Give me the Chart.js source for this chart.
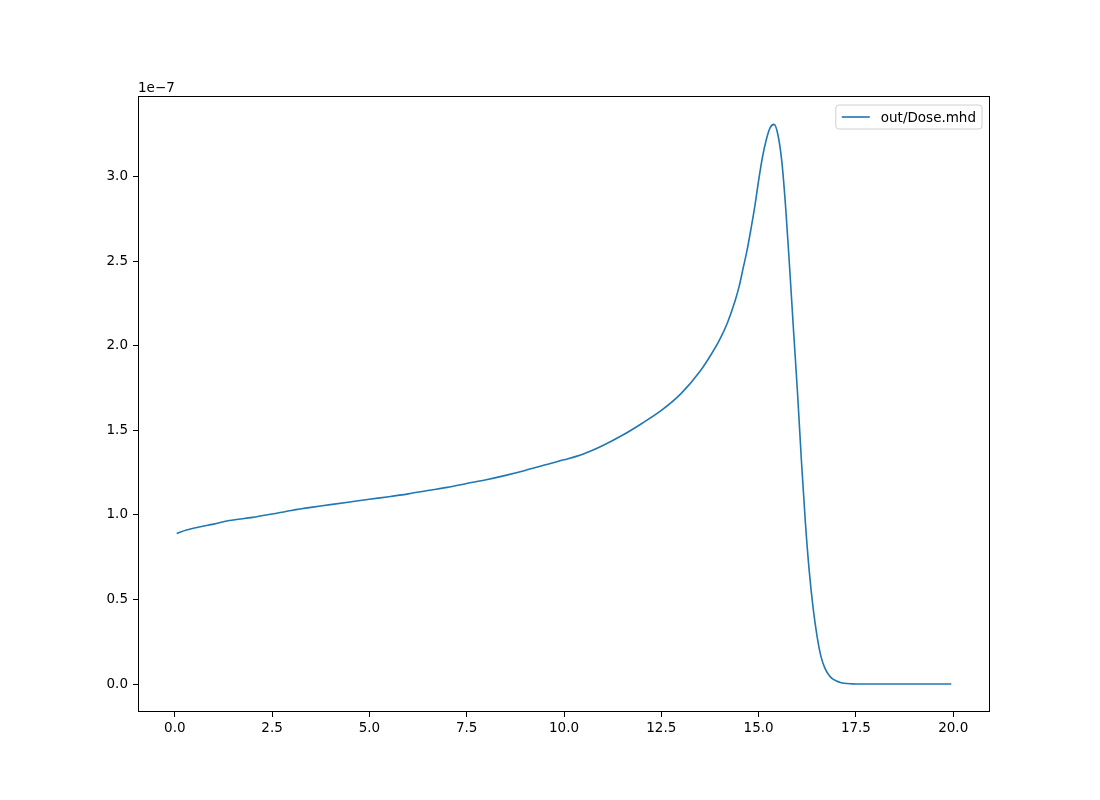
<!DOCTYPE html>
<html>
<head>
<meta charset="utf-8">
<script src="https://cdn.jsdelivr.net/npm/chart.js@4/dist/chart.umd.min.js"></script>
<style>
html,body{margin:0;padding:0;background:#fff;}
canvas{display:block;}
</style>
</head>
<body>
<canvas id="c" width="1100" height="800"></canvas>
<script>
// Depth (mm) positions
const depth = [0.05,0.3,0.6,1.0,1.4,2.0,2.5,3.0,3.5,4.0,4.5,5.0,5.5,6.0,6.5,7.0,7.5,8.0,8.5,9.0,9.5,10.0,10.5,11.0,11.5,12.0,12.5,13.0,13.5,13.8,14.0,14.2,14.4,14.5,14.6,14.7,14.8,14.9,15.0,15.1,15.2,15.3,15.4,15.5,15.6,15.7,15.8,15.9,16.0,16.1,16.2,16.3,16.4,16.5,16.6,16.7,16.8,16.9,17.0,17.1,17.2,17.4,17.6,18.0,18.5,19.0,19.5,19.95];
// Dose values, in units of 1e-7
const doseE7 = [0.890,0.910,0.927,0.945,0.966,0.985,1.005,1.026,1.044,1.060,1.076,1.092,1.107,1.124,1.144,1.162,1.185,1.207,1.233,1.262,1.294,1.325,1.360,1.410,1.470,1.540,1.617,1.715,1.850,1.955,2.035,2.135,2.268,2.350,2.455,2.560,2.685,2.820,2.976,3.115,3.220,3.290,3.308,3.242,3.080,2.800,2.450,2.080,1.720,1.320,0.960,0.670,0.450,0.285,0.165,0.095,0.055,0.030,0.018,0.009,0.004,0.001,0.000,0.000,0.000,0.000,0.000,0.000];
const seriesLabel = "out/Dose.mhd";
const xTicks = [0,2.5,5,7.5,10,12.5,15,17.5,20];
const yTicks = [0,0.5,1,1.5,2,2.5,3];
const offsetLabel = "1e\u22127";

const FONT = "'DejaVu Sans', sans-serif";
const points = depth.map((x,i)=>({x:x,y:doseE7[i]}));

const framePlugin = {
  id:'frame',
  afterDraw(chart){
    const {ctx, chartArea:a} = chart;
    ctx.save();
    ctx.strokeStyle='#000'; ctx.lineWidth=1;
    ctx.strokeRect(Math.round(a.left)+0.5, Math.round(a.top)+0.5, Math.round(a.right-a.left)-1, Math.round(a.bottom-a.top)-1);
    // offset label
    ctx.fillStyle='#000';
    ctx.font = "13.5px " + FONT;
    ctx.textAlign='left'; ctx.textBaseline='alphabetic';
    ctx.fillText(offsetLabel, a.left, a.top-4);
    // legend
    const ds = chart.data.datasets[0];
    ctx.font = "13.5px " + FONT;
    const tw = ctx.measureText(ds.label).width;
    const bw = tw + 51, bh = 24;
    const bx = a.right - 8 - bw, by = a.top + 9;
    ctx.beginPath();
    const r=3;
    ctx.moveTo(bx+r,by); ctx.lineTo(bx+bw-r,by); ctx.arcTo(bx+bw,by,bx+bw,by+r,r);
    ctx.lineTo(bx+bw,by+bh-r); ctx.arcTo(bx+bw,by+bh,bx+bw-r,by+bh,r);
    ctx.lineTo(bx+r,by+bh); ctx.arcTo(bx,by+bh,bx,by+bh-r,r);
    ctx.lineTo(bx,by+r); ctx.arcTo(bx,by,bx+r,by,r); ctx.closePath();
    ctx.fillStyle='rgba(255,255,255,0.8)'; ctx.fill();
    ctx.strokeStyle='#d0d0d0'; ctx.lineWidth=1; ctx.stroke();
    ctx.strokeStyle=ds.borderColor; ctx.lineWidth=ds.borderWidth;
    ctx.beginPath(); ctx.moveTo(bx+6, by+bh/2); ctx.lineTo(bx+34, by+bh/2); ctx.stroke();
    ctx.fillStyle='#000'; ctx.textBaseline='middle';
    ctx.fillText(ds.label, bx+45, by+bh/2+1);
    ctx.restore();
  }
};

new Chart(document.getElementById('c'), {
  type:'line',
  data:{datasets:[{label:seriesLabel,data:points,borderColor:'#1f77b4',borderWidth:1.6,pointRadius:0,fill:false,cubicInterpolationMode:'monotone'}]},
  options:{
    responsive:false, animation:false, devicePixelRatio:1,
    layout:{padding:{left:0,top:96,right:110,bottom:0}},
    plugins:{legend:{display:false},tooltip:{enabled:false}},
    scales:{
      x:{type:'linear',min:-0.945,max:20.945,
        afterBuildTicks(s){s.ticks=xTicks.map(v=>({value:v}));},
        afterFit(s){s.height=88;},
        grid:{drawOnChartArea:false,drawTicks:true,tickLength:5,tickColor:'#000',tickWidth:1},
        border:{display:false},
        ticks:{color:'#000',font:{family:FONT,size:13.5},padding:3,maxRotation:0,autoSkip:false,callback:v=>Number(v).toFixed(1)}},
      y:{type:'linear',min:-0.1655,max:3.4755,
        afterBuildTicks(s){s.ticks=yTicks.map(v=>({value:v}));},
        afterFit(s){s.width=138;},
        grid:{drawOnChartArea:false,drawTicks:true,tickLength:5,tickColor:'#000',tickWidth:1},
        border:{display:false},
        ticks:{color:'#000',font:{family:FONT,size:13.5},padding:5,autoSkip:false,callback:v=>Number(v).toFixed(1)}}
    }
  },
  plugins:[framePlugin]
});
</script>
</body>
</html>
